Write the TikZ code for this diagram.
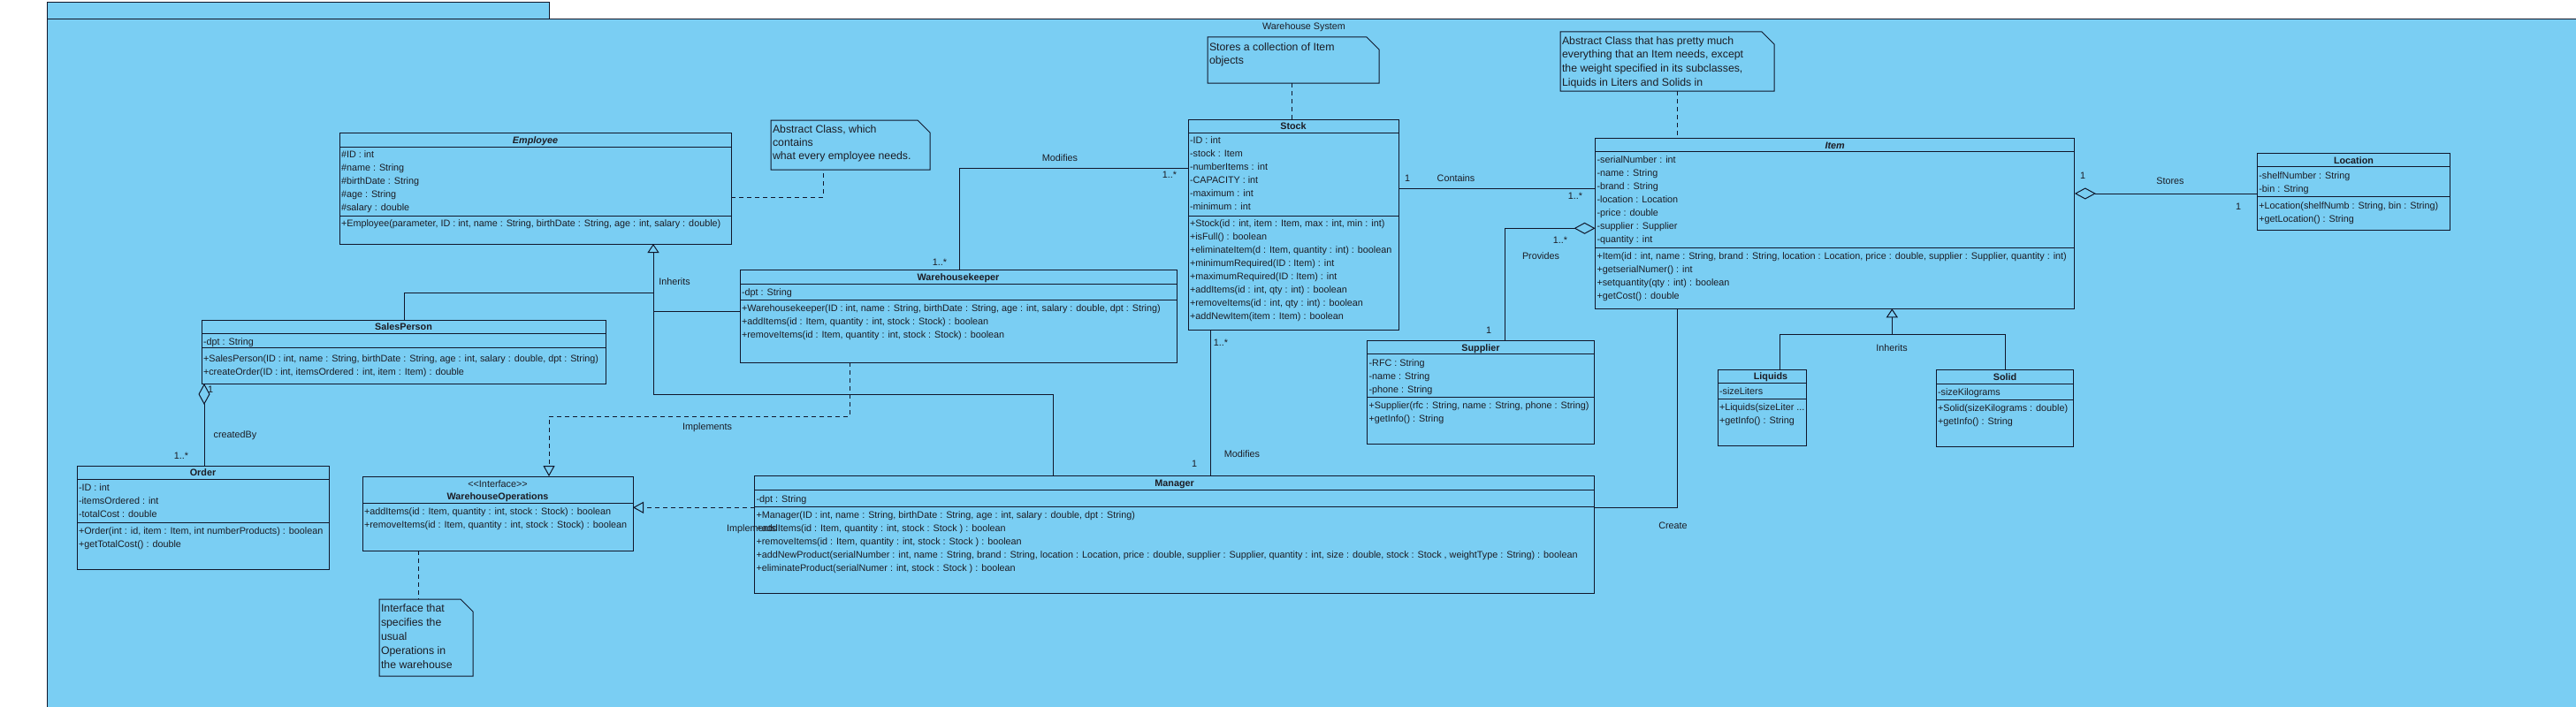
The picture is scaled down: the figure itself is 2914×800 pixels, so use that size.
\documentclass[tikz,border=0pt]{standalone}
\usepackage{fontspec}
\setmainfont{Liberation Sans}
\usetikzlibrary{arrows.meta}
\definecolor{umlbg}{RGB}{122,206,243}
\definecolor{umlline}{RGB}{16,22,42}
\definecolor{umltext}{RGB}{28,28,36}
\newcommand{\clsfont}{\fontsize{10.8}{13}\selectfont}
\newcommand{\ntfont}{\fontsize{12.3}{15}\selectfont}
\newcommand{\threedots}{...}
\tikzset{
  classbox/.style={draw=umlline, fill=umlbg, line width=1pt, inner sep=0pt, outer sep=0pt, anchor=north west, rectangle},
  umlrow/.style={font=\clsfont, text=umltext, anchor=west, inner sep=0pt, outer sep=0pt, text height=8pt, text depth=0pt},
  umltitle/.style={umlrow, anchor=center, font=\clsfont\bfseries},
  umlabs/.style={umlrow, anchor=center, font=\clsfont\bfseries\itshape},
  umllabel/.style={umlrow, anchor=center},
  noterow/.style={umlrow, font=\ntfont, text height=9pt},
  assoc/.style={draw=umlline, line width=1pt},
  dashline/.style={assoc, dash pattern=on 5pt off 4pt},
  inh/.style={assoc, -{Triangle[open, length=10pt, width=13pt]}},
  real/.style={dashline, -{Triangle[open, length=12pt, width=13pt]}},
  agg/.style={assoc, -{Diamond[open, length=24pt, width=13pt]}},
}
\newcommand{\ubox}[5]{\node[classbox, minimum width={(#4-#2)*1pt}, minimum height={(#5-#3)*1pt}] (#1) at (#2,#3) {};}
\newcommand{\usep}[2]{\draw[assoc] (#1.west |- 0,#2) -- (#1.east |- 0,#2);}
\newcommand{\urows}[4]{\foreach \t [count=\i from 0] in {#4} {\node[umlrow] (#3\i) at (#1,{#2+15*\i}) {\t};}}
\newcommand{\unote}[5]{\node[inner sep=0pt, outer sep=0pt, anchor=north west, minimum width={(#4-#2)*1pt}, minimum height={(#5-#3)*1pt}] (#1) at (#2,#3) {};
  \draw[assoc, fill=umlbg] (#1.north west) -- ([xshift=-14pt]#1.north east) -- ([yshift=-14pt]#1.north east) -- (#1.south east) -- (#1.south west) -- cycle;}
\newcommand{\nrows}[5]{\foreach \t [count=\i from 0] in {#5} {\node[noterow] (#3\i) at (#1,{#2+#4*\i}) {\t};}}

\begin{document}
\begin{tikzpicture}[x=1pt, y=-1pt]
\useasboundingbox (0,0) rectangle (2914,800);
\clip (0,0) rectangle (2914,800);
\fill[white] (0,0) rectangle (2914,800);
% package frame
\node[classbox, minimum width=568pt, minimum height=19pt] (pkgtab) at (53,3) {};
\node[classbox, minimum width=2900pt, minimum height=820pt] (pkg) at (53,22) {};
\node[umllabel] (pkgname) at (1475,30) {Warehouse System};

% ---------- classes ----------
% Employee
\ubox{emp}{384}{150}{827}{276}
\usep{emp}{166}\usep{emp}{244}
\node[umlabs] (emp-t) at (605.5,158) {Employee};
\urows{386}{174.5}{emp-a}{{\#ID : int},{\#name : String},{\#birthDate : String},{\#age : String},{\#salary : double}}
\urows{386}{252.5}{emp-o}{{+Employee(parameter, ID : int, name : String, birthDate : String, age : int, salary : double)}}

% Stock
\ubox{stk}{1344}{135}{1582}{373}
\usep{stk}{150}\usep{stk}{244}
\node[umltitle] (stk-t) at (1463,142.5) {Stock};
\urows{1346}{158.8}{stk-a}{{-ID : int},{-stock : Item},{-numberItems : int},{-CAPACITY : int},{-maximum : int},{-minimum : int}}
\urows{1346}{252.5}{stk-o}{{+Stock(id : int, item : Item, max : int, min : int)},{+isFull() : boolean},{+eliminateItem(d : Item, quantity : int) : boolean},{+minimumRequired(ID : Item) : int},{+maximumRequired(ID : Item) : int},{+addItems(id : int, qty : int) : boolean},{+removeItems(id : int, qty : int) : boolean},{+addNewItem(item : Item) : boolean}}

% Warehousekeeper
\ubox{wk}{837}{305}{1331}{410}
\usep{wk}{321}\usep{wk}{339}
\node[umltitle] (wk-t) at (1084,313) {Warehousekeeper};
\urows{839}{330}{wk-a}{{-dpt : String}}
\urows{839}{348}{wk-o}{{+Warehousekeeper(ID : int, name : String, birthDate : String, age : int, salary : double, dpt : String)},{+addItems(id : Item, quantity : int, stock : Stock) : boolean},{+removeItems(id : Item, quantity : int, stock : Stock) : boolean}}

% SalesPerson
\ubox{sp}{228}{362}{685}{434}
\usep{sp}{377}\usep{sp}{393}
\node[umltitle] (sp-t) at (456.5,369.5) {SalesPerson};
\urows{230}{386}{sp-a}{{-dpt : String}}
\urows{230}{405}{sp-o}{{+SalesPerson(ID : int, name : String, birthDate : String, age : int, salary : double, dpt : String)},{+createOrder(ID : int, itemsOrdered : int, item : Item) : double}}

% Order
\ubox{ord}{87}{527}{372}{644}
\usep{ord}{542}\usep{ord}{591}
\node[umltitle] (ord-t) at (229.5,534.5) {Order};
\urows{89}{551}{ord-a}{{-ID : int},{-itemsOrdered : int},{-totalCost : double}}
\urows{89}{600.5}{ord-o}{{+Order(int : id, item : Item, int numberProducts) : boolean},{+getTotalCost() : double}}

% WarehouseOperations
\ubox{ifc}{410}{539}{716}{623}
\usep{ifc}{569}
\node[umllabel] (ifc-s) at (563,547.5) {<\kern0pt<Interface>\kern0pt>};
\node[umltitle] (ifc-t) at (563,561.5) {WarehouseOperations};
\urows{412}{578.5}{ifc-o}{{+addItems(id : Item, quantity : int, stock : Stock) : boolean},{+removeItems(id : Item, quantity : int, stock : Stock) : boolean}}

% Manager
\ubox{mgr}{853.5}{538}{1803.7}{671}
\usep{mgr}{554}\usep{mgr}{573}
\node[umltitle] (mgr-t) at (1328.6,546) {Manager};
\urows{855.5}{564}{mgr-a}{{-dpt : String}}
\urows{855.5}{582.5}{mgr-o}{{+Manager(ID : int, name : String, birthDate : String, age : int, salary : double, dpt : String)},{+addItems(id : Item, quantity : int, stock : Stock ) : boolean},{+removeItems(id : Item, quantity : int, stock : Stock ) : boolean},{+addNewProduct(serialNumber : int, name : String, brand : String, location : Location, price : double, supplier : Supplier, quantity : int, size : double, stock : Stock , weightType : String) : boolean},{+eliminateProduct(serialNumer : int, stock : Stock ) : boolean}}

% Item
\ubox{itm}{1804.5}{156.7}{2346.8}{349.3}
\usep{itm}{171.7}\usep{itm}{280}
\node[umlabs] (itm-t) at (2075.6,164.2) {Item};
\urows{1806.5}{180.5}{itm-a}{{-serialNumber : int},{-name : String},{-brand : String},{-location : Location},{-price : double},{-supplier : Supplier},{-quantity : int}}
\urows{1806.5}{289}{itm-o}{{+Item(id : int, name : String, brand : String, location : Location, price : double, supplier : Supplier, quantity : int)},{+getserialNumer() : int},{+setquantity(qty : int) : boolean},{+getCost() : double}}

% Supplier
\ubox{sup}{1546.6}{385.3}{1803.7}{502.3}
\usep{sup}{400.7}\usep{sup}{449.3}
\node[umltitle] (sup-t) at (1675,393) {Supplier};
\urows{1548.6}{410}{sup-a}{{-RFC : String},{-name : String},{-phone : String}}
\urows{1548.6}{458.5}{sup-o}{{+Supplier(rfc : String, name : String, phone : String)},{+getInfo() : String}}

% Liquids
\ubox{liq}{1943.5}{418}{2043.8}{504.3}
\usep{liq}{433.3}\usep{liq}{451.7}
\node[umltitle] (liq-t) at (2003,425.7) {Liquids};
\urows{1945}{442.5}{liq-a}{{-sizeLiters}}
\urows{1945}{460.5}{liq-o}{{+Liquids(sizeLiter \threedots},{+getInfo() : String}}

% Solid
\ubox{sol}{2190}{418.7}{2345.7}{505}
\usep{sol}{434}\usep{sol}{452.3}
\node[umltitle] (sol-t) at (2268,426.3) {Solid};
\urows{2192}{443}{sol-a}{{-sizeKilograms}}
\urows{2192}{461}{sol-o}{{+Solid(sizeKilograms : double)},{+getInfo() : String}}

% Location
\ubox{loc}{2553.3}{173.3}{2771.7}{260}
\usep{loc}{188.7}\usep{loc}{222.3}
\node[umltitle] (loc-t) at (2662.5,181) {Location};
\urows{2555.3}{198}{loc-a}{{-shelfNumber : String},{-bin : String}}
\urows{2555.3}{232}{loc-o}{{+Location(shelfNumb : String, bin : String)},{+getLocation() : String}}

% ---------- notes ----------
\unote{empnote}{872}{136}{1052}{192}
\nrows{874}{146}{en}{15}{{Abstract Class, which},{contains},{what every employee needs.}}
\unote{stknote}{1366}{42}{1560}{94}
\nrows{1368}{53}{sn}{15}{{Stores a collection of Item},{objects}}
\unote{itmnote}{1765}{36}{2007}{103}
\nrows{1767}{46}{in}{15.5}{{Abstract Class that has pretty much},{everything that an Item needs, except},{the weight specified in its subclasses,},{Liquids in Liters and Solids in}}
\unote{ifnote}{429}{678}{535}{765}
\nrows{431}{688}{fn}{16}{{Interface that},{specifies the},{usual},{Operations in},{the warehouse}}

% ---------- connectors ----------
\coordinate (j1) at (739,331.7);
\coordinate (j2) at (739,352);
\coordinate (j3) at (739,446.7);
\draw[inh] (sp.north -| 457.6,0) |- (j1) -- (emp.south -| 739,0);
\draw[assoc] (wk.west |- j2) -- (j2);
\draw[assoc] (mgr.north -| 1191,0) |- (j3) -- (j1);
\node[umllabel] (lb-inh1) at (763,318) {Inherits};

\coordinate (k1) at (621,471);
\draw[real] (wk.south -| 961,0) |- (k1) -- (ifc.north -| k1);
\node[umllabel] (lb-imp1) at (800,482) {Implements};
\draw[real] (mgr.west |- 0,574.3) -- (ifc.east |- 0,574.3);
\node[umllabel] (lb-imp2) at (850,597) {Implements};

\draw[agg] (ord.north -| 231,0) -- (sp.south -| 231,0);
\node[umlrow] (lb-cb1) at (235,440) {1};
\node[umllabel] (lb-cb2) at (266,491) {createdBy};
\node[umllabel] (lb-cb3) at (205,515) {1..*};

\draw[assoc] (wk.north -| 1085,0) |- (stk.west |- 0,190.7);
\node[umllabel] (lb-m1) at (1199,178) {Modifies};
\node[umllabel] (lb-m2) at (1323,197) {1..*};
\node[umllabel] (lb-m3) at (1063,296) {1..*};

\draw[assoc] (mgr.north -| 1369,0) -- (stk.south -| 1369,0);
\node[umllabel] (lb-m4) at (1381,387) {1..*};
\node[umllabel] (lb-m5) at (1351,524) {1};
\node[umllabel] (lb-m6) at (1405,513) {Modifies};

\draw[assoc] (stk.east |- 0,213) -- (itm.west |- 0,213);
\node[umllabel] (lb-c1) at (1592,201) {1};
\node[umllabel] (lb-c2) at (1647,201) {Contains};
\node[umllabel] (lb-c3) at (1782,221) {1..*};

\draw[agg] (sup.north -| 1702,0) |- (itm.west |- 0,258.3);
\node[umllabel] (lb-p1) at (1765,271) {1..*};
\node[umllabel] (lb-p2) at (1743,289) {Provides};
\node[umllabel] (lb-p3) at (1684,373) {1};

\draw[assoc] (mgr.east |- 0,574) -| (itm.south -| 1897.5,0);
\node[umllabel] (lb-cr) at (1892.5,594) {Create};

\coordinate (ls) at (2140.3,378.7);
\draw[inh] (ls) -- (itm.south -| ls);
\draw[assoc] (liq.north -| 2013,0) -- (2013,378.7) -- (2268,378.7) -- (sol.north -| 2268,0);
\node[umllabel] (lb-inh2) at (2140,393) {Inherits};

\draw[agg] (loc.west |- 0,219) -- (itm.east |- 0,219);
\node[umllabel] (lb-s1) at (2356,198) {1};
\node[umllabel] (lb-s2) at (2455,204) {Stores};
\node[umllabel] (lb-s3) at (2532,233) {1};

% note connectors
\draw[dashline] (emp.east |- 0,223) -| (empnote.south -| 931,0);
\draw[dashline] (stknote.south -| 1461,0) -- (stk.north -| 1461,0);
\draw[dashline] (itmnote.south -| 1897,0) -- (itm.north -| 1897,0);
\draw[dashline] (ifc.south -| 473,0) -- (ifnote.north -| 473,0);
\end{tikzpicture}
\end{document}
